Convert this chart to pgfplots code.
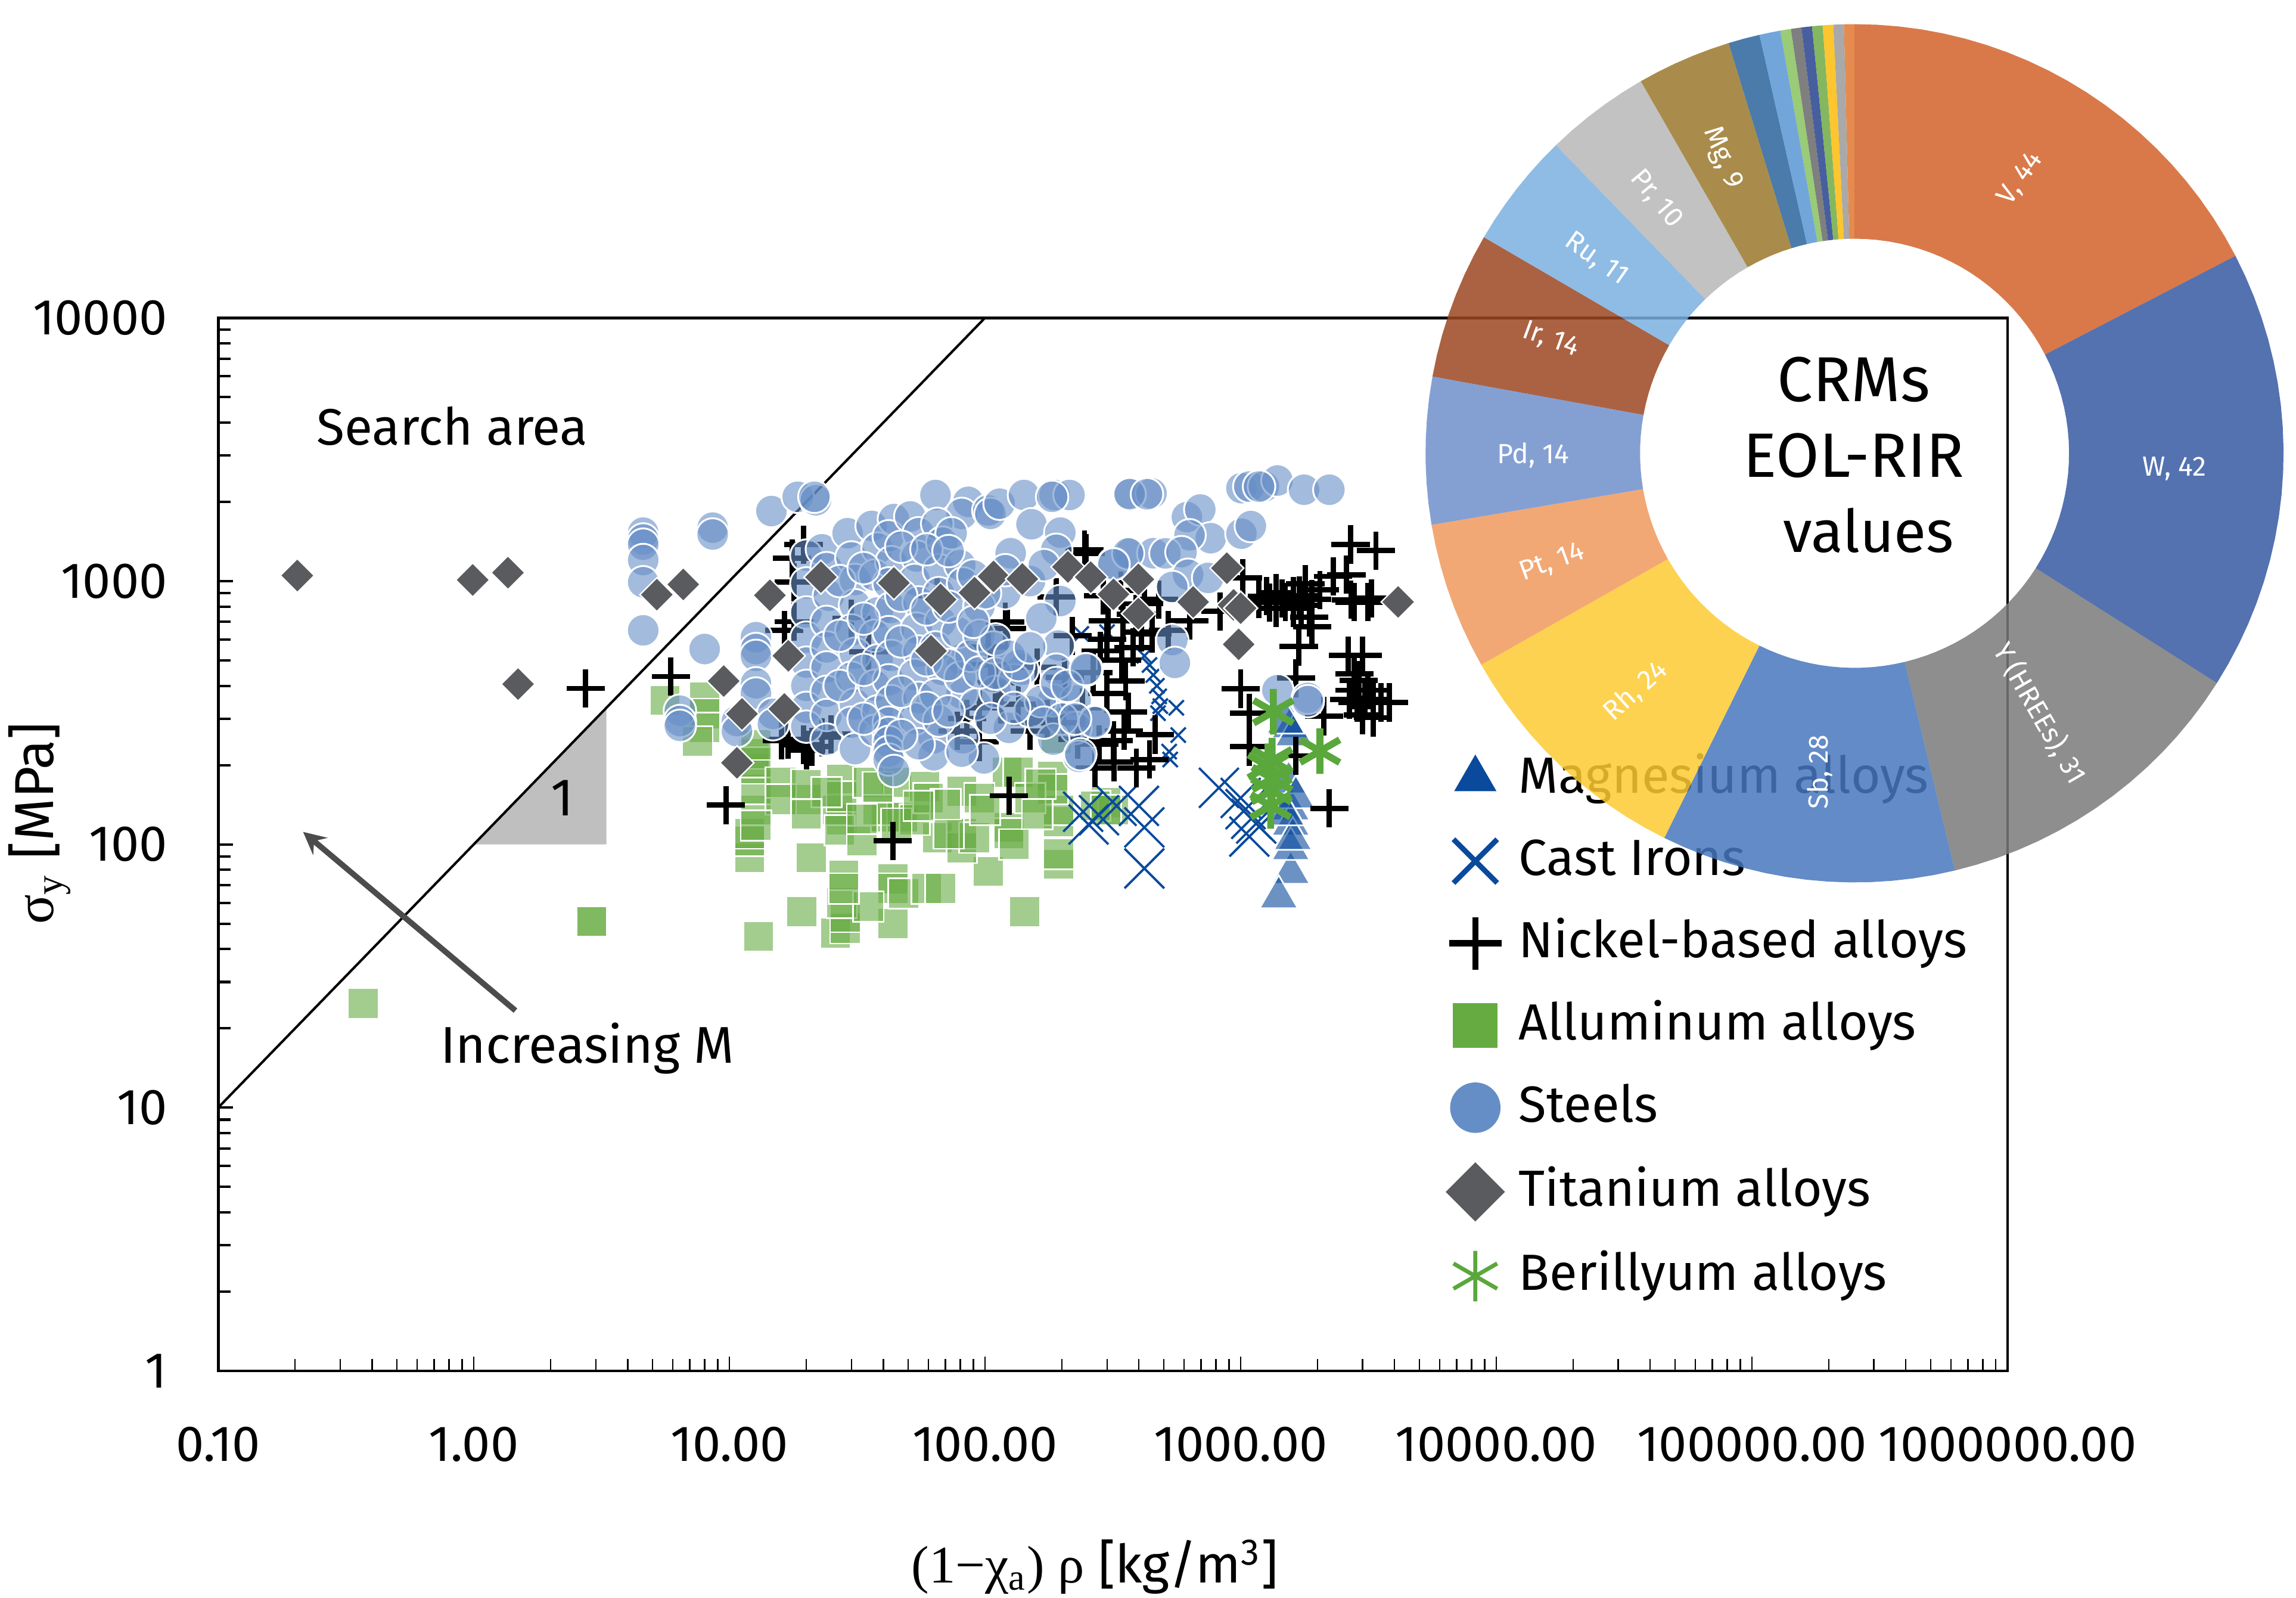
\documentclass[border=0pt]{standalone}
\usepackage{fontspec}
\setmainfont{Fira Sans}
\newfontfamily\serif{Liberation Serif}
\usepackage{pgfplots}
\pgfplotsset{compat=1.18}
\definecolor{cblue}{HTML}{0A4A9C}
\definecolor{cgreen}{HTML}{66AB42}
\definecolor{csteel}{HTML}{668EC6}
\definecolor{cdia}{HTML}{595B5E}
\definecolor{cast}{HTML}{5AA83C}
\definecolor{pV}{HTML}{D2612A}\definecolor{pW}{HTML}{3659A2}\definecolor{pY}{HTML}{7A7A7A}
\definecolor{pSb}{HTML}{4677BD}\definecolor{pRh}{HTML}{FDCA32}\definecolor{pPt}{HTML}{F0995D}
\definecolor{pPd}{HTML}{6F8FCB}\definecolor{pIr}{HTML}{9C4721}\definecolor{pRu}{HTML}{7BB0E1}
\definecolor{pPr}{HTML}{B7B7B7}\definecolor{pMg}{HTML}{9A782B}\definecolor{pa}{HTML}{2A649C}
\definecolor{pb}{HTML}{5997D5}\definecolor{pc}{HTML}{88C25E}\definecolor{pd}{HTML}{686868}
\definecolor{pe}{HTML}{27438D}\definecolor{pf}{HTML}{6FAA44}\definecolor{pg}{HTML}{FDBB0B}
\definecolor{ph}{HTML}{9A9A9A}\definecolor{pi}{HTML}{E07730}
\newcommand\fs[1]{\fontsize{#1}{#1}\selectfont}
% one ring slice of the doughnut: first unit, value, colour (253 units in all)
\newcommand\piewedge[3]{%
  \pgfmathsetmacro\aA{#1*1.422925}%
  \pgfmathsetmacro\aB{(#1+#2)*1.422925}%
  \pgfmathtruncatemacro\nn{max(2,ceil(#2*1.422925/3))}%
  \gdef\pts{}%
  \foreach \i in {0,...,\nn}{%
    \pgfmathsetmacro\a{\aA+(\aB-\aA)*\i/\nn}%
    \pgfmathsetmacro\xx{1266.5+293*sin(\a)}%
    \pgfmathsetmacro\yy{309.5-293*cos(\a)}%
    \xdef\pts{\pts (\xx,\yy)}}%
  \foreach \i in {\nn,...,0}{%
    \pgfmathsetmacro\a{\aA+(\aB-\aA)*\i/\nn}%
    \pgfmathsetmacro\xx{1266.5+146.5*sin(\a)}%
    \pgfmathsetmacro\yy{309.5-146.5*cos(\a)}%
    \xdef\pts{\pts (\xx,\yy)}}%
  \edef\cmd{\noexpand\addplot[fill=#3,draw=none,fill opacity=.85,forget plot] coordinates {\pts};}\cmd}
\begin{document}
\begin{tikzpicture}
\path[use as bounding box] (0,0) rectangle (564.48pt,392.76pt);
\begin{axis}[
  at={(53.64pt,55.8pt)},anchor=south west,
  scale only axis,width=439.92pt,height=258.84pt,
  xmode=log,ymode=log,log basis x=10,log basis y=10,
  xmin=0.1,xmax=1000000,ymin=1,ymax=10000,
  xtick={0.1,1,10,100,1000,10000,100000,1000000},
  xticklabels={0.10,1.00,10.00,100.00,1000.00,10000.00,100000.00,1000000.00},
  ytick={1,10,100,1000,10000},
  yticklabels={1,10,100,1000,10000},
  minor xtick={0.2,0.3,0.4,0.5,0.6,0.7,0.8,0.9,2,3,4,5,6,7,8,9,20,30,40,50,60,70,80,90,200,300,400,500,600,700,800,900,2000,3000,4000,5000,6000,7000,8000,9000,20000,30000,40000,50000,60000,70000,80000,90000,200000,300000,400000,500000,600000,700000,800000,900000},
  minor ytick={2,3,4,5,6,7,8,9,20,30,40,50,60,70,80,90,200,300,400,500,600,700,800,900,2000,3000,4000,5000,6000,7000,8000,9000},
  tick align=inside,xtick pos=bottom,ytick pos=left,
  major tick length=3.6pt,minor tick length=3pt,
  x tick style={line width=.35pt,black},y tick style={line width=.6pt,black},
  axis line style={line width=.7pt},
  tick label style={font=\fs{12.4},/pgf/number format/assume math mode=true},
  xticklabel style={yshift=-10.2pt},
  yticklabel style={xshift=-9pt},
  xlabel={{\serif (1−χ\textsubscript{a}) ρ} [kg/m\textsuperscript{3}]},
  ylabel={{\serif σ\textsubscript{y}} [MPa]},
  xlabel style={font=\fs{13},at={(axis description cs:0.49,-0.186)},anchor=center},
  ylabel style={font=\fs{13.5},at={(axis description cs:-0.0998,0.52)},anchor=center},
  legend cell align=left,
  legend style={at={(axis description cs:0.6862,0.588)},anchor=north west,draw=none,fill=none,
    font=\fs{12.5},row sep=7.2pt,column sep=3.7pt,inner sep=0pt,
    nodes={inner sep=0pt,text height=10pt,text depth=3pt}},
  clip=false,
]
\addlegendimage{only marks,mark=triangle*,mark size=5.6pt,color=cblue}
\addlegendentry{Magnesium alloys}
\addlegendimage{only marks,mark=x,mark size=7.6pt,line width=1.3pt,color=cblue}
\addlegendentry{Cast Irons}
\addlegendimage{only marks,mark=+,mark size=6.45pt,line width=1.5pt,color=black}
\addlegendentry{Nickel-based alloys}
\addlegendimage{only marks,mark=square*,mark size=5.3pt,color=cgreen}
\addlegendentry{Alluminum alloys}
\addlegendimage{only marks,mark=*,mark size=6pt,color=csteel}
\addlegendentry{Steels}
\addlegendimage{only marks,mark=square*,mark size=4.95pt,color=cdia,mark options={rotate=45}}
\addlegendentry{Titanium alloys}
\addlegendimage{only marks,mark=asterisk,mark size=6.2pt,line width=1pt,color=cast}
\addlegendentry{Berillyum alloys}
% slope triangle and the guide line
\addplot[fill=black!25,draw=none,forget plot] coordinates {(1,100)(3.3,100)(3.3,330)};
\addplot[black,line width=.6pt,forget plot] coordinates {(0.1,10)(100,10000)};
% Aluminium
\addplot[only marks,mark=square*,mark size=3.75pt,forget plot,
  mark options={draw=white,line width=.4pt,fill=cgreen,fill opacity=.6}] coordinates {
(2.89,51)(2.89,51)(0.369,24.9)(13,44.7)(19.2,55.5)(26,46)(28.4,48)(28.4,53)(43.6,50)(143,55.5)
(27.5,60)(43.6,74)(43.6,68)(48,65)(59,68)(67,68)(35,58)(28,76.6)(28,68)(20.9,89)(12,89)(12,103)(12,110)
(103,79)(194,84)(194,92)(194,122)(194,135)(124,116)(124,110)(65,106)(81,97)(81,110)(91,106)(72,110)
(27.5,124)(26.5,135)(27,113)(33,103)(41,127)(47.5,127)(53,124)(20,148)(12.7,135)(12.7,162)(12.7,194)
(12.5,221)(12.7,205)(15.9,172)(15.9,148)(20,169)(27.5,177)(27.5,152)(45,172)(58,166)(81,159)(122,188)
(135,188)(184,182)(184,162)(190,253)(8,363)(8,313)(8,277)(7.5,246)(5.6,352)(12.7,239)(297,144)(318,135)
(270,140)(297,135)(35,172)(38,135)(60,150)(70,142)(95,150)(100,135)(150,150)(160,130)(165,170)(45,120)
(33,125)(24,158)(12.7,118)(38,165)(55,140)(20,130)(130,100)
};
% Cast irons
\addplot[only marks,mark=x,mark size=6.9pt,line width=.55pt,color=cblue,forget plot] coordinates {
(822,164)(1045,136)(1081,107)(1100,125)(1150,120)(242,133)(279,129)(327,140)(400,140)(420,116)(420,81)
(254,119)(1000,150)
};
\addplot[only marks,mark=x,mark size=2.6pt,line width=.55pt,color=cblue,forget plot] coordinates {
(420,520)(440,480)(455,440)(470,400)(480,365)(485,335)(475,315)(530,210)(525,225)(560,330)(570,260)(300,640)(238,630)
};
% Magnesium
\addplot[only marks,mark=triangle*,mark size=5.4pt,forget plot,
  mark options={draw=white,line width=.4pt,fill=cblue,fill opacity=.6}] coordinates {
(1570,78)(1409,63)(1570,279)(1570,136)(1570,119)(1570,96)(1540,172)(1644,151)(1600,105)(1500,130)(1620,260)(1500,290)
};
% Nickel
\addplot[only marks,mark=+,mark size=4.7pt,line width=1.3pt,color=black,forget plot] coordinates {
(2.74,391)(5.9,434)(9.7,141)(43.6,103)(124,153)(19.5,239)(17,250)(21,235)(16,248)(23,255)(25,262)(20,228)
(16.4,650)(17.9,701)(19.5,1375)(17.6,1219)(17.9,990)(122,660)(103,561)
(245,1315)(283,543)(343,501)(300,374)(355,417)(363,319)(462,261)(318,248)(391,195)(269,195)(248,1274)
(479,851)(347,708)(303,708)(451,631)(631,708)(832,767)(1019,1028)
(1178,853)(1265,877)(1375,902)(1496,831)(1607,877)(1790,975)(1726,809)(1901,853)(1858,728)(2042,925)(1375,789)(1607,789)(1901,672)
(1300,830)(1450,860)(1700,880)
(2692,1377)(3381,1306)(2301,1042)(2594,1057)(2786,831)(3147,831)(2700,850)(3250,860)
(1687,565)(2630,522)(3000,522)(2786,445)
(2661,355)(2858,346)(3069,355)(3296,355)(3548,346)(3811,346)(3296,303)(2786,385)(3147,385)(2900,420)(3000,310)
(1000,390)(1081,315)(1081,235)(1644,217)(2118,307)(2223,137)(1644,428)
(78,270)(85,300)(95,330)(110,410)(115,340)(200,290)(230,250)(150,290)(135,340)(160,470)
(220,620)(265,450)(380,560)(300,600)(420,820)(390,750)(410,640)(290,880)(340,920)(520,650)
(30,720)(35,540)(65,880)(190,870)
(150,270)(175,300)(205,430)(280,240)(320,205)(240,330)(350,270)(440,210)(120,700)(105,480)(95,245)
};
% Steels
\addplot[only marks,mark=*,mark size=4pt,forget plot,
  mark options={draw=white,line width=.45pt,fill=csteel,fill opacity=.6}] coordinates {
(4.6,1528)(4.6,1439)(4.6,1375)(4.6,1202)(4.6,990)(4.6,650)(8.6,1596)(8.6,1503)(14.6,1845)(18.5,2090)(21.8,2028)(21.5,2090)
(8,552)(6.4,322)(6.4,294)(6.4,282)(12.7,612)(12.7,552)(12.7,520)(12.7,409)(12.7,374)(10.7,294)(10.7,269)(14.8,313)(14.8,286)
(64,2123)(86,2000)(81,1800)(103,1854)(105,1800)(114,1968)(142,2123)(187,2123)(214,2123)(183,2090)(152,1644)(126,1276)
(197,1528)(190,1315)(365,2153)(448,2153)(371,1276)(455,1276)(318,1167)(197,840)(166,722)(194,569)(140,461)(106,434)
(190,461)(250,461)(184,352)(226,352)(124,277)(268,294)(226,277)(233,215)(99,212)(81,374)(81,505)(63,253)(82,253)(63,218)(81,225)
(20,1250)(20,980)(20,760)(20,610)(20,490)(20,400)(20,330)(20,280)(23,1320)(24,1120)(24.5,880)(24,700)(24,560)(24,470)(24,380)
(24,310)(24,250)(29,1520)(30,1230)(31,1010)(31,810)(30,650)(31,530)(30,430)(31,340)(30,290)(31,230)(36,1620)(38,1330)(37,1050)
(38,760)(37,620)(38,500)(37,400)(38,320)(37,270)(44,1720)(42,1480)(43,1180)(42,980)(43,790)(42,640)(43,520)(42,420)(43,350)
(42,290)(42,265)(42,245)(42,225)(42,210)(51,1760)(55,1520)(54,1240)(53,1010)(55,830)(54,660)(55,540)(53,440)(55,360)(53,300)
(55,240)(65,1650)(68,1400)(66,1100)(66,900)(67,700)(64,560)(68,460)(64,370)(66,295)(74,1520)(80,1150)(82,980)(78,640)(80,430)
(90,1050)(88,520)(92,340)(110,380)(120,900)
(27,1000)(27,620)(27,400)(33.5,1120)(33.5,720)(33.5,460)(33.5,300)(44,190)
(47,1350)(47,880)(47,590)(47,380)(47,260)(59,1320)(59,780)(59,500)(59,330)
(72,1300)(72,800)(72,480)(72,320)(95,800)(95,620)(95,450)(105,300)(108,560)(130,420)(150,320)
(110,445)(135,480)(165,350)(190,410)(200,300)(185,250)(170,290)(130,330)(110,600)(125,520)(150,560)(210,400)(90,700)(100,900)(120,1100)(150,1000)(170,1150)
(368,2138)(430,2138)(616,1750)(695,1870)(764,1455)(631,1493)(1007,1514)(1096,1618)(1007,2254)(1081,2286)(1233,2286)(1393,2410)
(1770,2223)(2223,2223)(1180,2286)(508,1274)(587,1288)(363,1274)(318,1158)(623,1057)(746,1028)(540,950)(540,597)(553,489)(1393,385)
(1832,360)(1832,350)(248,463)(269,291)(236,220)(225,300)
};
% Titanium
\addplot[only marks,mark=square*,mark size=2.95pt,forget plot,
  mark options={draw=white,line width=.35pt,fill=cdia,rotate=45}] coordinates {
(0.204,1050)(0.99,1010)(1.36,1076)(1.49,406)(5.2,888)(6.6,971)(9.5,417)(11.2,313)(10.7,204)(14.4,883)(16.4,327)(17,520)(22.8,1035)
(44,984)(61.5,543)(67,851)(91,904)(108,1042)(140,1019)(211,1132)(259,1035)(318,891)(398,752)(398,1015)(652,833)(883,1120)(938,812)(982,575)(1000,789)(4130,833)
};
% Beryllium
\addplot[only marks,mark=asterisk,mark size=5.6pt,line width=1.7pt,color=cast,forget plot] coordinates {
(1343,319)(2042,226)(1327,208)(1279,198)(1327,178)(1310,140)(1320,160)
};
\end{axis}
\begin{axis}[
  at={(0pt,0pt)},anchor=south west,hide axis,
  scale only axis,width=564.48pt,height=392.76pt,
  xmin=0,xmax=1568,ymin=0,ymax=1091,y dir=reverse,clip=false,
]
\piewedge{0}{44}{pV}
\piewedge{44}{42}{pW}
\piewedge{86}{31}{pY}
\piewedge{117}{28}{pSb}
\piewedge{145}{24}{pRh}
\piewedge{169}{14}{pPt}
\piewedge{183}{14}{pPd}
\piewedge{197}{14}{pIr}
\piewedge{211}{11}{pRu}
\piewedge{222}{10}{pPr}
\piewedge{232}{9}{pMg}
\piewedge{241}{3}{pa}
\piewedge{244}{2}{pb}
\piewedge{246}{1}{pc}
\piewedge{247}{1}{pd}
\piewedge{248}{1}{pe}
\piewedge{249}{1}{pf}
\piewedge{250}{1}{pg}
\piewedge{251}{1}{ph}
\piewedge{252}{1}{pi}
\begin{scope}[every node/.style={text=white,font=\fs{6.8}}]
\node[rotate=55] at (axis cs:1380,122) {V, 44};
\node at (axis cs:1485,320) {W, 42};
\node[rotate=-60] at (axis cs:1393,487) {Y (HREEs), 31};
\node[rotate=90] at (axis cs:1243,527) {Sb, 28};
\node[rotate=42] at (axis cs:1117,472) {Rh, 24};
\node[rotate=20] at (axis cs:1060,384) {Pt, 14};
\node at (axis cs:1047,311) {Pd, 14};
\node[rotate=-20] at (axis cs:1059,232) {Ir, 14};
\node[rotate=-35] at (axis cs:1090,177) {Ru, 11};
\node[rotate=-50] at (axis cs:1131,136) {Pr, 10};
\node[rotate=-68] at (axis cs:1176,108) {Mg, 9};
\end{scope}
\node[font=\fs{15.6}] at (axis cs:1266,259) {CRMs};
\node[font=\fs{15.4}] at (axis cs:1266,311) {EOL-RIR};
\node[font=\fs{14.5}] at (axis cs:1276,362) {values};
\node[font=\fs{12.6}] at (axis cs:309,291) {Search area};
\node[font=\fs{12.7}] at (axis cs:401,716) {Increasing M};
\node[font=\fs{13}] at (axis cs:384,545) {1};
\draw[-stealth,color=black!70,line width=1.4pt] (axis cs:352,690) -- (axis cs:207,568);
\end{axis}
\end{tikzpicture}
\end{document}
